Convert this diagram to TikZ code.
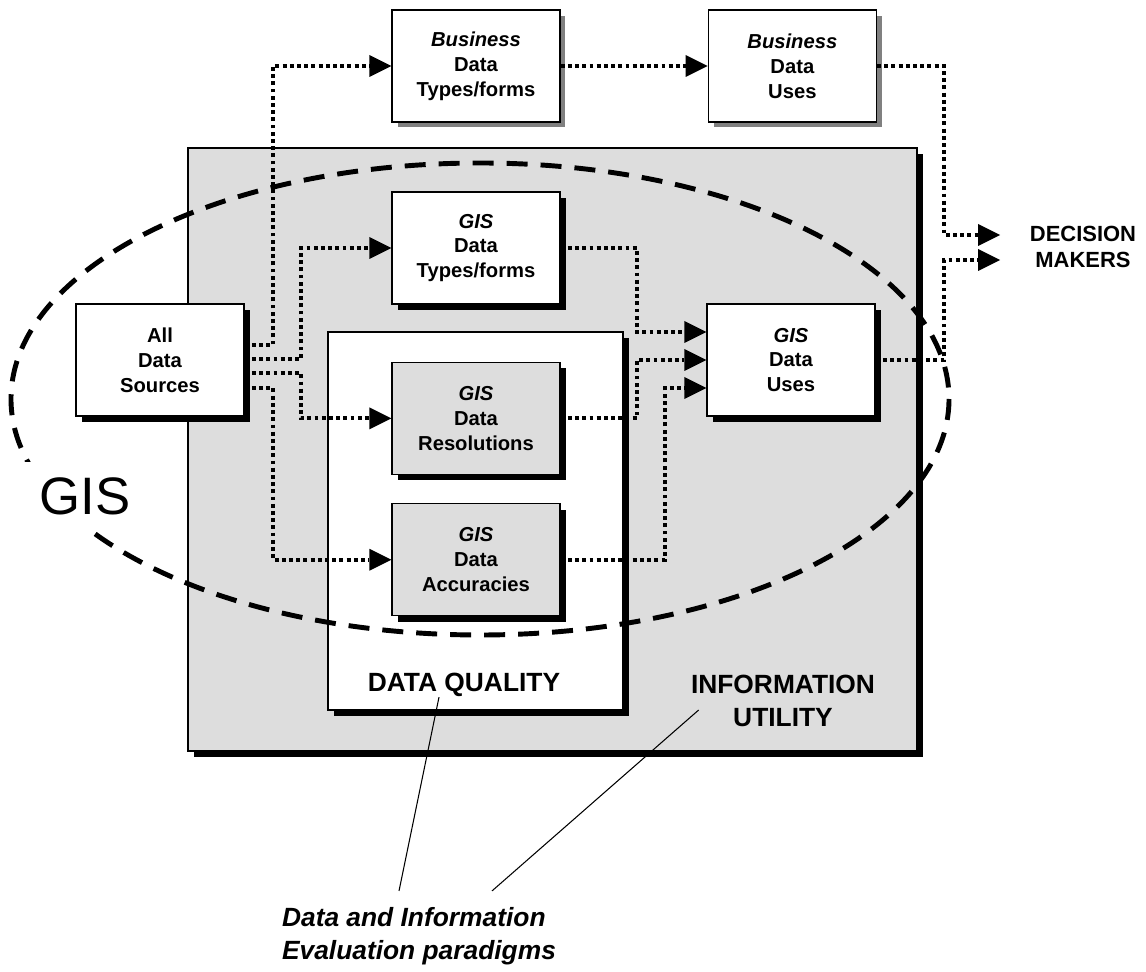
\documentclass[tikz,border=0pt]{standalone}
\usepackage{fontspec}
\setmainfont{Liberation Sans}
\usetikzlibrary{positioning}
\usetikzlibrary{arrows.meta}
\usetikzlibrary{shadows}
\tikzset{tips=proper}
\definecolor{panelgray}{HTML}{DDDDDD}
\tikzset{%
    card/.style={rectangle, draw, line width=0.8pt, align=center, minimum width=3.36cm, minimum height=2.24cm, font=\fontsize{11.5}{14.2}\selectfont\bfseries},
    box/.style={card, fill=white, drop shadow={shadow xshift=0.12cm, shadow yshift=-0.12cm, fill=black, opacity=1}},
    qbox/.style={card, fill=panelgray, drop shadow={shadow xshift=0.12cm, shadow yshift=-0.12cm, fill=black, opacity=1}},
    bizbox/.style={card, fill=white, drop shadow={shadow xshift=0.11cm, shadow yshift=-0.11cm, fill=black!50, opacity=1}},
    flow/.style={draw, line width=2.2pt, dash pattern=on 2.2pt off 1.9pt, -{Triangle[length=4.4mm, width=4.4mm, line width=0pt]}},
    leader/.style={draw, line width=0.6pt},
    tag/.style={inner sep=0pt, align=center, font=\fontsize{15}{18.7}\selectfont\bfseries}
}

\begin{document}
\begin{tikzpicture}[x=0.02cm, y=-0.02cm]
    \useasboundingbox (0,0) rectangle (1146,972);
    % panels
    \node[rectangle, draw, line width=0.8pt, fill=panelgray, minimum width=14.58cm, minimum height=12.06cm,
        drop shadow={shadow xshift=0.12cm, shadow yshift=-0.12cm, fill=black, opacity=1}] (utility) at (552.5,449.5) {};
    \node[box, minimum width=5.9cm, minimum height=7.56cm] (quality) at (475.5,521) {};
    \draw[line width=2.8pt, dash pattern=on 0.42cm off 0.26cm] (480,399) ellipse [x radius=469, y radius=236];
    % boxes
    \node[box] (src) at (160,360) {All\\Data\\Sources};
    \node[bizbox] (btype) at (476,66) {\textit{Business}\\Data\\Types/forms};
    \node[bizbox, right=2.94cm of btype] (buse) {\textit{Business}\\Data\\Uses};
    \node[box] (gtype) at (476,248) {\textit{GIS}\\Data\\Types/forms};
    \node[qbox, below=1.14cm of gtype] (res) {\textit{GIS}\\Data\\Resolutions};
    \node[qbox, below=0.56cm of res] (acc) {\textit{GIS}\\Data\\Accuracies};
    \node[box] (guse) at (791,360) {\textit{GIS}\\Data\\Uses};
    % labels
    \node[tag, font=\fontsize{12.5}{14.7}\selectfont\bfseries] (dm) at (1083,247) {DECISION\\MAKERS};
    \coordinate (dm1) at (1000,235);
    \coordinate (dm2) at (1000,260);
    \node[tag] (dqlbl) at (464,685) {DATA QUALITY};
    \node[tag] (infolbl) at (783,701) {INFORMATION\\UTILITY};
    \node[tag, align=left, font=\fontsize{15}{18.7}\selectfont\bfseries\itshape] (eval) at (419,936) {Data and Information\\Evaluation paradigms};
    \node[font=\fontsize{30}{36}\selectfont, fill=white, inner sep=0.3cm] (gislbl) at (85,496) {GIS};
    % flows
    \draw[flow] (src.east |- 0,345) -- (273,345) |- (btype.west);
    \draw[flow] (src.east |- 0,359) -- (301,359) |- (gtype.west);
    \draw[flow] (src.east |- 0,373) -- (301,373) |- (res.west);
    \draw[flow] (src.east |- 0,388) -- (273,388) |- (acc.west);
    \draw[flow] (btype) -- (buse);
    \draw[flow] (buse.east) -| (944,235) -- (dm1);
    \draw[flow] (gtype.east) -| (637,332) -- (guse.west |- 0,332);
    \draw[flow] (res.east) -| (637,360) -- (guse.west);
    \draw[flow] (acc.east) -| (665,388) -- (guse.west |- 0,388);
    \draw[flow] (guse.east) -| (944,260) -- (dm2);
    % leaders
    \draw[leader] ([xshift=-0.5cm]dqlbl.south) -- ([xshift=-0.4cm, yshift=0.32cm]eval.north);
    \draw[leader] ([xshift=0.16cm, yshift=-0.18cm]infolbl.west) -- ([xshift=1.46cm, yshift=0.32cm]eval.north);
\end{tikzpicture}
\end{document}
